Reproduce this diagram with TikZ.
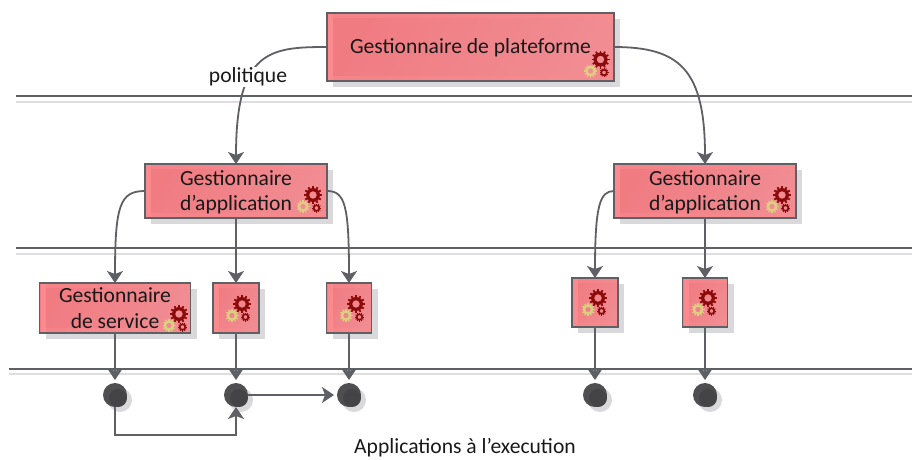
\documentclass[tikz,border=0pt]{standalone}
\usepackage{fontspec}
\setmainfont{Carlito}
\usetikzlibrary{arrows.meta,calc}
\definecolor{ln}{HTML}{5F5F66}
\definecolor{lnl}{HTML}{DEDEE0}
\definecolor{shd}{HTML}{D9D9DB}
\definecolor{gearr}{HTML}{8B0A0A}
\definecolor{geary}{HTML}{DDCF80}
\definecolor{circ}{HTML}{4F4F51}
\definecolor{circd}{HTML}{444446}
\definecolor{F1}{HTML}{F07C82}
\definecolor{F2}{HTML}{F08C92}
\definecolor{F3}{HTML}{FB8A8E}
\tikzset{
  x=1pt,y=-1pt,
  lbl/.style={font=\fontsize{21.6}{25.5}\selectfont,text=black!90},
  box/.style={draw=ln,line width=1.8pt,outer sep=0pt,left color=F1,right color=F2,shading angle=60,inner sep=0pt,align=center,anchor=north west,lbl},
  conn/.style={draw=ln,line width=1.8pt,-{Stealth[length=12pt,width=16pt,inset=3pt]}},
  rule/.style={draw=ln,line width=2pt},
  rulel/.style={draw=lnl,line width=2pt},
  dot/.style={circle,fill=circ,inner sep=0pt,outer sep=0pt,minimum size=24pt},
}
\newcommand{\gearat}[4]{% x y radius colour
  \begin{scope}[shift={(#1,#2)}]
    \draw[#4,line width=0.36*#3 pt] (0,0) circle[radius=0.62*#3];
    \foreach \a in {0,30,...,330}{
      \draw[#4,line width=0.2*#3 pt] (\a:0.7*#3) -- (\a:#3);
    }
  \end{scope}}
\newcommand{\boxbg}[4]{\fill[shd] (#1+6,#2+6) rectangle (#3+6,#4+6);}
\newcommand{\boxedge}[4]{\fill[F3] (#1+1,#2+1) rectangle (#1+6,#4-1);\fill[F3,opacity=.5] (#1+6,#2+1) rectangle (#3-1,#2+5);\fill[F3,opacity=.5] (#1+6,#4-5) rectangle (#3-1,#4-1);}
\newcommand{\allgears}[2]{%
  \gearat{#1-10}{#2+11.5}{6.5}{geary}
  \gearat{#1}{#2}{9}{gearr}
  \gearat{#1+3.5}{#2+13}{4.5}{gearr}}
\newcommand{\dotinner}[1]{\fill[circd] (#1+3,398) circle[radius=9];}
\begin{document}
\begin{tikzpicture}
\useasboundingbox (0,0) rectangle (912,459);
% horizontal bands
\coordinate (r1a) at (16,96);  \coordinate (r1b) at (912,96);
\coordinate (r2a) at (16,248); \coordinate (r2b) at (912,248);
\coordinate (r3a) at (9,369);  \coordinate (r3b) at (912,369);
\coordinate (l1a) at (16,102); \coordinate (l1b) at (912,102);
\coordinate (l2a) at (16,254); \coordinate (l2b) at (912,254);
\coordinate (l3a) at (9,374);  \coordinate (l3b) at (912,374);
\draw[rulel] (l1a)--(l1b); \draw[rulel] (l2a)--(l2b); \draw[rulel] (l3a)--(l3b);
\draw[rule] (r1a)--(r1b); \draw[rule] (r2a)--(r2b); \draw[rule] (r3a)--(r3b);
% shadows
\boxbg{327}{13}{614}{81}
\boxbg{145}{164}{327}{218}
\boxbg{614}{164}{796}{218}
\boxbg{39.5}{283}{190.5}{333}
\boxbg{213}{283}{259}{333}
\boxbg{326.5}{283}{371.5}{333}
\boxbg{572}{278}{618}{327}
\boxbg{682.5}{278}{727.5}{327}
% dot shadows
\foreach \x in {115,236,349,595,705}{\fill[shd] (\x+5,400) circle[radius=12];}
% boxes
\node[box,minimum width=287pt,minimum height=68pt] (top) at (327,13) {};
\node[box,minimum width=182pt,minimum height=54pt] (appa) at (145,164) {};
\node[box,minimum width=182pt,minimum height=54pt] (appb) at (614,164) {};
\node[box,minimum width=151pt,minimum height=50pt] (svc) at (39.5,283) {};
\node[box,minimum width=46pt,minimum height=50pt] (sa) at (213,283) {};
\node[box,minimum width=45pt,minimum height=50pt] (sb) at (326.5,283) {};
\node[box,minimum width=46pt,minimum height=49pt] (sc) at (572,278) {};
\node[box,minimum width=45pt,minimum height=49pt] (sd) at (682.5,278) {};
\boxedge{327}{13}{614}{81}
\boxedge{145}{164}{327}{218}
\boxedge{614}{164}{796}{218}
\boxedge{39.5}{283}{190.5}{333}
\boxedge{213}{283}{259}{333}
\boxedge{326.5}{283}{371.5}{333}
\boxedge{572}{278}{618}{327}
\boxedge{682.5}{278}{727.5}{327}
% box texts
\node[lbl,align=center,yshift=-1pt] (ttop) at (top.center) {Gestionnaire de plateforme};
\node[lbl,align=center,yshift=-1.5pt] (tappa) at (appa.center) {Gestionnaire\\d’application};
\node[lbl,align=center,yshift=-1.5pt] (tappb) at (appb.center) {Gestionnaire\\d’application};
\node[lbl,align=center] (tsvc) at (svc.center) {Gestionnaire\\de service};
% gears
\allgears{600.5}{59.5}
\allgears{313}{195}
\allgears{782}{195}
\allgears{179}{314}
\allgears{242}{304}
\allgears{356}{304}
\allgears{598}{298}
\allgears{708}{298}
% dots
\node[dot] (da) at (115,395) {};
\node[dot] (db) at (236,395) {};
\node[dot] (dc) at (349,395) {};
\node[dot] (dd) at (595,395) {};
\node[dot] (de) at (705,395) {};
\foreach \x in {115,236,349,595,705}{\dotinner{\x}}
% connectors
\draw[conn] (top.west) .. controls (270,47) and (236,50) .. (236,164);
\node[lbl,fill=white,inner sep=1pt] (pol) at (248,77) {politique};
\draw[conn] (top.east) .. controls (680,47) and (705,70) .. (705,164);
\draw[conn] (appa.west) .. controls (120,191) and (115,205) .. (svc.north);
\draw[conn] (appa.south) -- (sa.north);
\draw[conn] (appa.east) .. controls (345,191) and (349,205) .. (sb.north);
\draw[conn] (appb.west) .. controls (600,191) and (595,205) .. (sc.north);
\draw[conn] (appb.south) -- (sd.north);
\draw[conn,shorten >=3pt] (svc.south) -- (da.north);
\draw[conn,shorten >=3pt] (sa.south) -- (db.north);
\draw[conn,shorten >=3pt] (sb.south) -- (dc.north);
\draw[conn,shorten >=3pt] (sc.south) -- (dd.north);
\draw[conn,shorten >=3pt] (sd.south) -- (de.north);
\draw[conn,shorten >=3pt] (db.east) -- (dc.west);
\coordinate (ca) at (115,435);
\coordinate (cb) at (236,435);
\draw[conn] (da.south) -- (ca) -- (cb) -- (db.south);
\node[lbl,inner sep=0pt] (cap) at (465,448) {Applications à l’execution};
\end{tikzpicture}
\end{document}
